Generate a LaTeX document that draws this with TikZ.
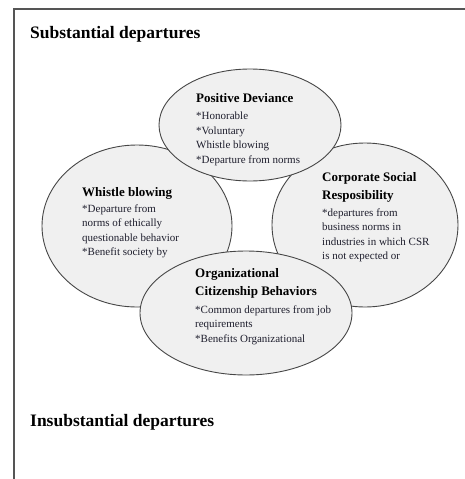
\documentclass[tikz,border=0pt]{standalone}
\usepackage{fontspec}
\setmainfont{Liberation Serif}
\usetikzlibrary{shapes.geometric}

\definecolor{rimgray}{RGB}{70,70,70}
\definecolor{bubblefill}{RGB}{240,240,240}
\definecolor{inkblue}{RGB}{30,30,45}
\definecolor{framegray}{RGB}{85,85,85}

\tikzset{
  bubble/.style={ellipse, draw=rimgray, fill=bubblefill, line width=0.9pt, inner sep=0pt},
  bubbletext/.style={anchor=north west, inner sep=0pt, align=left, text=inkblue,
    font=\fontsize{11}{14.5}\selectfont},
  headline/.style={anchor=base west, inner sep=0pt, text=black,
    font=\fontsize{17.5}{20}\selectfont\bfseries}
}
\newcommand{\hd}{\fontsize{13}{14.5}\selectfont\bfseries\color{black}}

\begin{document}
\begin{tikzpicture}[x=1pt,y=-1pt]
\useasboundingbox (0,0) rectangle (465,479);

% Frame (cut off at right and bottom)
\coordinate (frametop) at (465,9);
\coordinate (framecorner) at (14,9);
\coordinate (framefoot) at (14,479);
\draw[framegray, line width=2pt] (frametop) -- (framecorner) -- (framefoot);

% Headings
\node[headline] (subst) at (30,38) {Substantial departures};
\node[headline] (insubst) at (30,426) {Insubstantial departures};

% Side ellipses first, top and bottom ones lie over them
\node[bubble, minimum width=190pt, minimum height=162pt] (whistle) at (137,226) {};
\node[bubble, minimum width=186pt, minimum height=164pt] (csr) at (365,225) {};
\node[bubble, minimum width=182pt, minimum height=112pt] (posdev) at (250,125) {};
\node[bubble, minimum width=212pt, minimum height=124pt] (ocb) at (246,313) {};

% Texts in the ellipses
\node[bubbletext] (posdevtext) at (196,93)
  {{\hd Positive Deviance}\\[3pt]*Honorable\\*Voluntary\\Whistle blowing\\*Departure from norms};
\node[bubbletext] (whistletext) at (82,187)
  {{\hd Whistle blowing}\\[1.5pt]*Departure from\\norms of ethically\\questionable behavior\\*Benefit society by};
\node[bubbletext] (csrtext) at (322,172)
  {{\hd Corporate Social}\\[3.5pt]{\hd Resposibility}\\[2.5pt]*departures from\\business norms in\\industries in which CSR\\is not expected or};
\node[bubbletext] (ocbtext) at (195,268)
  {{\hd Organizational}\\[4pt]{\hd Citizenship Behaviors}\\[3pt]*Common departures from job\\requirements\\*Benefits Organizational};

\end{tikzpicture}
\end{document}
